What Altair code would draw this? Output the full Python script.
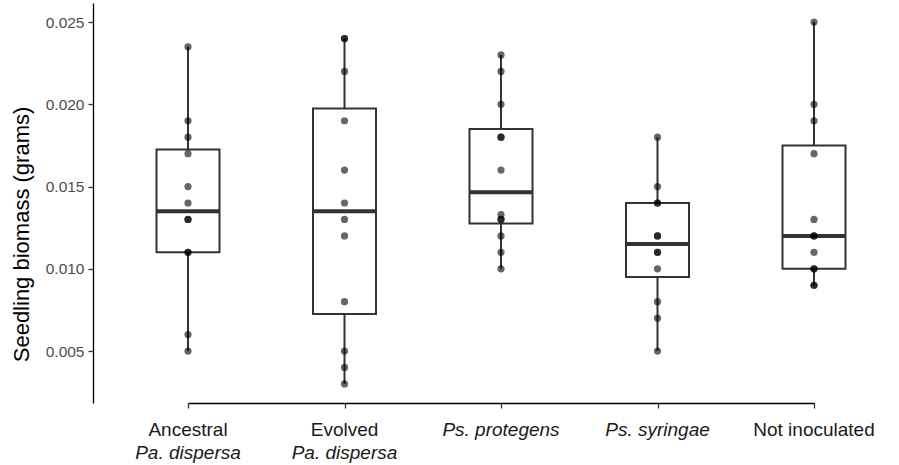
import altair as alt
import pandas as pd

# Treatment groups, in plotting order
groups = [
    "Ancestral Pa. dispersa",
    "Evolved Pa. dispersa",
    "Ps. protegens",
    "Ps. syringae",
    "Not inoculated",
]

# Seedling biomass (grams) per plant, one list per treatment
ancestral = [0.005, 0.006, 0.011, 0.011, 0.013, 0.013, 0.014, 0.015, 0.017, 0.018, 0.019, 0.0235]
evolved = [0.003, 0.004, 0.005, 0.008, 0.012, 0.013, 0.014, 0.016, 0.019, 0.022, 0.024, 0.024]
protegens = [0.010, 0.011, 0.012, 0.013, 0.013, 0.0133, 0.016, 0.018, 0.018, 0.020, 0.022, 0.023]
syringae = [0.005, 0.007, 0.008, 0.010, 0.011, 0.011, 0.012, 0.012, 0.014, 0.014, 0.015, 0.018]
not_inoculated = [0.009, 0.009, 0.010, 0.010, 0.011, 0.012, 0.012, 0.013, 0.017, 0.019, 0.020, 0.025]

# Two-line category labels; species names are set in italics
label_line1 = ["Ancestral", "Evolved", "Ps. protegens", "Ps. syringae", "Not inoculated"]
label_line1_italic = [False, False, True, True, False]
label_line2 = ["Pa. dispersa", "Pa. dispersa", "", "", ""]

y_ticks = [0.005, 0.010, 0.015, 0.020, 0.025]

series = [ancestral, evolved, protegens, syringae, not_inoculated]
rows = [{"group": g, "biomass": v} for g, vals in zip(groups, series) for v in vals]
df = pd.DataFrame(rows)

label_rows = []
for g, t1, it1, t2 in zip(groups, label_line1, label_line1_italic, label_line2):
    label_rows.append({"group": g, "text": t1, "line": 1, "italic": it1})
    if t2:
        label_rows.append({"group": g, "text": t2, "line": 2, "italic": True})
labels = pd.DataFrame(label_rows)

FONT = "Liberation Sans"
DARK = "#333333"

x_enc = alt.X(
    "group:N",
    sort=groups,
    scale=alt.Scale(type="point", range=[95, 721], padding=0),
    axis=alt.Axis(
        title="",
        labels=False,
        ticks=True,
        tickSize=5,
        tickColor=DARK,
        tickWidth=1.3,
        domainColor="black",
        domainWidth=1.3,
        grid=False,
    ),
)

y_enc = alt.Y(
    "biomass:Q",
    scale=alt.Scale(domain=[0.00184, 0.02616], nice=False, zero=False),
    axis=alt.Axis(
        values=y_ticks,
        format=".3f",
        title="Seedling biomass (grams)",
        titleFont=FONT,
        titleFontSize=22,
        titleFontWeight="normal",
        titleColor="black",
        titleAngle=-90,
        titleAlign="center",
        titleBaseline="alphabetic",
        titleX=-65,
        titleY=231,
        labelFont=FONT,
        labelFontSize=15.5,
        labelColor="#4d4d4d",
        labelPadding=4,
        tickSize=5,
        tickColor=DARK,
        tickWidth=1.3,
        domainColor="black",
        domainWidth=1.3,
        grid=False,
    ),
)

box = alt.Chart(df).mark_boxplot(
    extent=1.5,
    size=63,
    ticks=False,
    outliers=False,
    box={"fill": "white", "stroke": DARK, "strokeWidth": 2},
    median={"color": DARK, "opacity": 1, "thickness": 4},
    rule={"stroke": DARK, "strokeWidth": 2},
).encode(x=x_enc, y=y_enc)

points = alt.Chart(df).mark_circle(size=52, color="black", opacity=0.6).encode(
    x=alt.X("group:N", sort=groups),
    y="biomass:Q",
)


def label_layer(line, italic, ypix):
    return (
        alt.Chart(labels)
        .transform_filter((alt.datum.line == line) & (alt.datum.italic == italic))
        .mark_text(
            font=FONT,
            fontSize=19,
            fontStyle="italic" if italic else "normal",
            color="#1a1a1a",
            baseline="alphabetic",
            align="center",
        )
        .encode(
            x=alt.X("group:N", sort=groups),
            y=alt.value(ypix),
            text="text:N",
        )
    )


chart = (
    alt.layer(
        box,
        points,
        label_layer(1, False, 433),
        label_layer(1, True, 433),
        label_layer(2, True, 456),
    )
    .properties(
        width=806,
        height=400,
        autosize=alt.AutoSizeParams(type="none"),
        padding={"left": 93, "top": 3, "right": 0, "bottom": 62},
        background="white",
    )
    .configure_view(stroke=None)
)

chart.save("out.html", embed_options={"renderer": "svg", "actions": False})
